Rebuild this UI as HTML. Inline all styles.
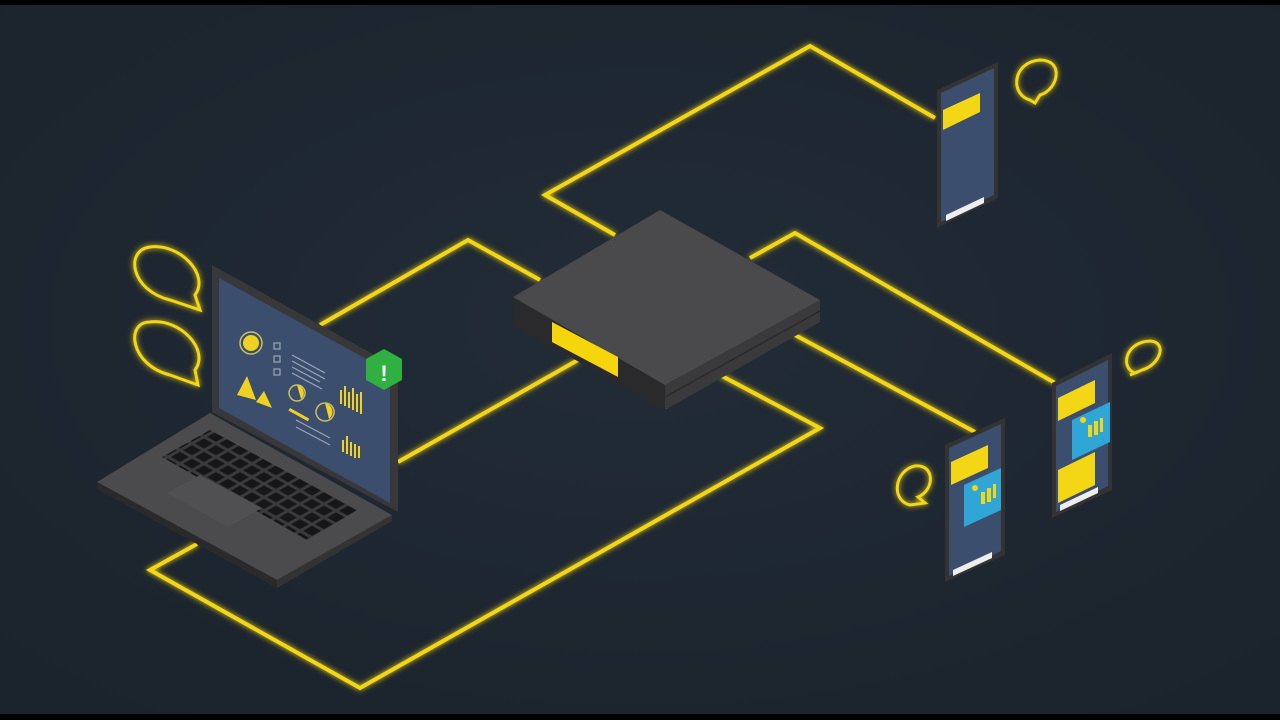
<!DOCTYPE html>
<html><head><meta charset="utf-8"><style>
html,body{margin:0;padding:0;background:#000;}
svg{display:block}
</style></head><body>
<svg width="1280" height="720" viewBox="0 0 1280 720" xmlns="http://www.w3.org/2000/svg">
<defs>
<filter id="glow" x="-20%" y="-20%" width="140%" height="140%">
<feGaussianBlur stdDeviation="3" result="b"/>
<feMerge><feMergeNode in="b"/><feMergeNode in="SourceGraphic"/></feMerge>
</filter>
<radialGradient id="bg" cx="50%" cy="45%" r="70%">
<stop offset="0" stop-color="#222c37"/><stop offset="1" stop-color="#1b232c"/>
</radialGradient>
<pattern id="keys" width="12" height="12" patternUnits="userSpaceOnUse" patternTransform="matrix(1,0.56,-1,0.56,0,0)">
<rect width="12" height="12" fill="#3a3a3c"/><rect x="1.5" y="1.5" width="9" height="9" fill="#161618"/>
</pattern>
</defs>
<rect x="0" y="0" width="1280" height="720" fill="#000"/>
<rect x="0" y="5" width="1280" height="709" fill="url(#bg)"/>

<g fill="none" stroke="#f3d615" stroke-width="4" stroke-linejoin="miter" filter="url(#glow)">
<polyline points="615,235 545,195 810,46 935,118"/>
<polyline points="320,325 468,240 540,280"/>
<polyline points="750,258 795,233 1055,383"/>
<polyline points="795,335 975,432"/>
<polyline points="398,462 578,360"/>
<polyline points="720,375 820,428 360,688 150,570 197,544"/>
</g>

<!-- server -->
<polygon points="513,297 665,385 665,410 513,325" fill="#2a2a2c"/>
<polygon points="665,385 820,300 820,322 665,410" fill="#3a3a3c"/>
<polygon points="513,297 660,210 820,300 665,385" fill="#4a4a4c"/>
<line x1="665" y1="397" x2="820" y2="311" stroke="#2a2a2c" stroke-width="1.5"/>
<polygon points="552,322 618,357 618,377 552,342" fill="#f5d60c"/>

<!-- laptop base -->
<polygon points="97,482 210,413 392,515 277,580" fill="#4b4b4d"/>
<polygon points="97,482 277,580 277,588 97,489" fill="#2a2a2c"/>
<polygon points="277,580 392,515 392,521 277,588" fill="#333"/>
<polygon points="162,457 210,430 357,510 307,540" fill="url(#keys)"/>
<polygon points="167,493 200,475 262,508 228,527" fill="#505052"/>
<!-- laptop screen -->
<polygon points="212,265 398,368 398,512 212,412" fill="#38383a"/>
<polygon points="219,278 390,372 390,503 219,408" fill="#3c4e6e"/>
<g fill="#f0d020">
<circle cx="251" cy="343" r="11" fill="none" stroke="#c8c060" stroke-width="1.5"/>
<circle cx="251" cy="343" r="8"/>
<polygon points="237,395 247,376 256,400"/>
<polygon points="256,402 264,391 272,408"/>
<path d="M297,385 a8,8 0 1,0 0.1,0 z" fill="none" stroke="#c8c060" stroke-width="1.5"/>
<path d="M297,385 a8,8 0 0,1 4,14 z"/>
<path d="M325,403 a9,9 0 0,1 4,16 z"/>
<path d="M325,403 a9,9 0 1,0 0.1,0 z" fill="none" stroke="#c8c060" stroke-width="1.5"/>
<rect x="340" y="390" width="2" height="14"/><rect x="344" y="386" width="2" height="20"/><rect x="348" y="392" width="2" height="16"/><rect x="352" y="388" width="2" height="22"/><rect x="356" y="394" width="2" height="18"/><rect x="360" y="392" width="2" height="22"/>
<rect x="342" y="440" width="2" height="12"/><rect x="346" y="436" width="2" height="18"/><rect x="350" y="442" width="2" height="14"/><rect x="354" y="444" width="2" height="14"/><rect x="358" y="446" width="2" height="12"/>
<rect x="290" y="408" width="22" height="3" transform="rotate(29 290 408)"/>
</g>
<g stroke="#9aa6b8" stroke-width="1.2" fill="none">
<line x1="292" y1="355" x2="325" y2="373"/><line x1="292" y1="361" x2="325" y2="379"/><line x1="292" y1="367" x2="320" y2="382"/><line x1="292" y1="373" x2="322" y2="389"/>
<rect x="274" y="343" width="6" height="6"/><rect x="274" y="356" width="6" height="6"/><rect x="274" y="369" width="6" height="6"/>
<line x1="296" y1="420" x2="330" y2="438"/><line x1="296" y1="427" x2="330" y2="445"/>
</g>
<!-- green hex -->
<polygon points="384,349 402,359 402,380 384,390 366,380 366,359" fill="#2fb040"/>
<text x="384" y="381" font-family="Liberation Sans, sans-serif" font-size="22" font-weight="bold" fill="#fff" text-anchor="middle">!</text>

<!-- bubbles -->
<g fill="none" stroke="#f3d615" stroke-width="3" filter="url(#glow)">
<path d="M170,300 C130,290 125,250 150,247 C180,243 210,275 195,295 L200,310 Z"/>
<path d="M170,375 C130,365 125,322 150,322 C180,318 210,350 195,370 L198,385 Z"/>
<path d="M1030,100 C1010,95 1012,62 1040,60 C1065,60 1058,90 1040,95 L1035,103 Z"/>
<path d="M1135,373 C1120,368 1125,342 1150,341 C1168,342 1160,365 1142,370 L1130,375 Z"/>
<path d="M910,505 C890,500 895,470 915,466 C935,464 935,490 918,497 L925,503 Z"/>
</g>

<!-- phones -->
<g>
<polygon points="937,90 998,62 998,198 937,228" fill="#333"/>
<polygon points="941,93 994,68 994,195 941,222" fill="#3c4e6e"/>
<polygon points="943,110 980,93 980,112 943,130" fill="#f3d615"/>
<polygon points="946,215 984,197 984,203 946,221" fill="#eee"/>

<polygon points="945,445 1005,418 1005,555 945,582" fill="#333"/>
<polygon points="949,448 1001,424 1001,551 949,576" fill="#3c4e6e"/>
<polygon points="951,462 988,445 988,468 951,485" fill="#f3d615"/>
<polygon points="964,485 1001,468 1001,510 964,527" fill="#2fa6d6"/>
<polygon points="953,570 992,552 992,558 953,576" fill="#eee"/>

<polygon points="1052,383 1112,353 1112,490 1052,518" fill="#333"/>
<polygon points="1056,386 1108,360 1108,486 1056,512" fill="#3c4e6e"/>
<polygon points="1058,398 1095,380 1095,403 1058,421" fill="#f3d615"/>
<polygon points="1072,420 1110,402 1110,442 1072,460" fill="#2fa6d6"/>
<polygon points="1058,470 1095,452 1095,485 1058,503" fill="#f3d615"/>
<polygon points="1060,505 1098,487 1098,493 1060,511" fill="#eee"/>
</g>
<g fill="#f3d615">
<circle cx="975" cy="488" r="3"/><rect x="981" y="492" width="4" height="12"/><rect x="987" y="488" width="4" height="14"/><rect x="993" y="484" width="3" height="14"/>
<circle cx="1083" cy="420" r="3"/><rect x="1088" y="425" width="4" height="12"/><rect x="1094" y="421" width="4" height="14"/><rect x="1100" y="418" width="3" height="14"/>
</g>
</svg>
</body></html>
